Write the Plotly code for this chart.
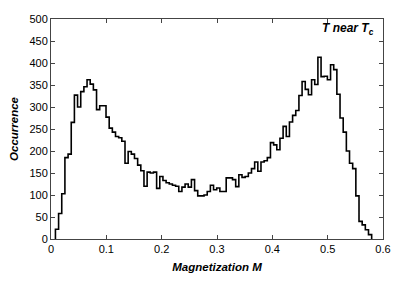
import numpy as np
import plotly.graph_objects as go

# Histogram data: 100 bins of magnetization M
bin_start = 0.008
bin_width = 0.005715
counts = [
    22, 58, 103, 185, 193, 265, 327, 300, 335, 346,
    362, 352, 339, 294, 303, 303, 277, 252, 243, 233,
    230, 222, 172, 199, 193, 183, 168, 155, 120, 152,
    150, 152, 115, 142, 133, 128, 125, 122, 120, 108,
    118, 125, 118, 135, 110, 98, 98, 100, 108, 122,
    112, 116, 108, 108, 139, 139, 135, 119, 146, 140,
    142, 150, 160, 175, 154, 175, 178, 185, 219, 214,
    203, 229, 256, 233, 266, 281, 292, 326, 358, 340,
    328, 362, 351, 413, 369, 370, 362, 396, 385, 329,
    275, 243, 200, 172, 160, 98, 40, 32, 21, 10,
]
x_ticks = [0, 0.1, 0.2, 0.3, 0.4, 0.5, 0.6]
x_tick_labels = ["0", "0.1", "0.2", "0.3", "0.4", "0.5", "0.6"]
y_ticks = list(range(0, 501, 50))
y_tick_labels = [str(v) for v in y_ticks]

edges = bin_start + bin_width * np.arange(len(counts) + 1)
xs = [edges[0]] + list(edges[:-1]) + [edges[-1]]
ys = [0] + counts + [0]

fig = go.Figure()
fig.add_trace(go.Scatter(
    x=xs, y=ys, mode="lines", line=dict(color="black", width=1.6, shape="hv"),
    hoverinfo="skip", showlegend=False,
))

font_family = "Liberation Sans, Arial, Helvetica, sans-serif"
axis_common = dict(
    showgrid=False, zeroline=False, showline=True, linecolor="#444", linewidth=1,
    mirror="ticks", ticks="inside", ticklen=4, tickcolor="#444", tickwidth=1,
    tickfont=dict(family=font_family, size=11, color="black"),
    automargin=False,
)
fig.update_layout(
    width=395, height=274,
    margin=dict(l=43, r=20, t=11, b=43),
    paper_bgcolor="white", plot_bgcolor="white",
    xaxis=dict(range=[0, 0.6], tickvals=x_ticks, ticktext=x_tick_labels,
               title=dict(text="<b><i>Magnetization M</i></b>", standoff=8,
                          font=dict(family=font_family, size=11.5, color="black")),
               **axis_common),
    yaxis=dict(range=[0, 500], tickvals=y_ticks, ticktext=y_tick_labels,
               title=dict(text="<b><i>Occurrence</i></b>", standoff=11,
                          font=dict(family=font_family, size=11.5, color="black")),
               **axis_common),
    annotations=[dict(
        x=0.587, y=478, xref="x", yref="y", xanchor="right", yanchor="middle",
        text="<b><i>T near T<sub>c</sub></i></b>", showarrow=False,
        font=dict(family=font_family, size=12, color="black"),
    )],
)
fig.write_html("out.html")
